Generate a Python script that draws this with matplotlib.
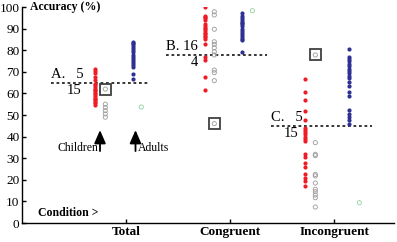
import matplotlib
matplotlib.use('Agg')
import matplotlib.pyplot as plt
from matplotlib.patches import Rectangle

plt.rcParams['font.family'] = ['Liberation Serif', 'DejaVu Serif']

# data
conditions = ['Total', 'Congruent', 'Incongruent']

children = [
    [71.5, 70.5, 69.5, 67.5, 66, 64.5, 64, 63, 62, 61.5, 61, 60, 59.5, 59, 58, 57.5, 57, 56, 55.5, 54.5],
    [100, 96, 95.5, 95, 94, 92, 91, 90.5, 90, 89, 88, 87.5, 86.5, 86, 85, 83, 77, 75.5, 67.5, 61.5],
    [66.7, 60.8, 56.9, 52, 47.7, 44, 43, 42, 41, 40, 39, 38, 32, 30.5, 28, 26, 22.5, 21, 19.5, 17],
]
adults = [
    [84, 83.5, 83, 82, 81, 80, 79, 78, 77, 76, 75, 74, 73, 72, 69, 66.5],
    [97, 96, 95, 94, 93, 92.5, 92, 91, 90, 89, 88, 87, 86, 85, 84.5, 79],
    [80.5, 77, 76, 75, 73.5, 72.5, 71.5, 70.5, 69.5, 68, 67, 65.5, 63.5, 60.5, 59, 52.5, 50.5, 49, 47.5, 46],
]
grey_pts = [
    [55, 53.5, 52, 50.5, 49],
    [97.8, 96.3, 89.7, 83.9, 82.7, 81.1, 79.3, 77.8, 70.8, 69.6, 65.9],
    [37.2, 31.8, 31.2, 22.5, 21.8, 18.5, 15.6, 14.5, 13, 11.7, 7.4],
]
boxed = [62, 46, 77.8]
green_pts = [53.7, 98.3, 9.4]
split_lines = [65, 78, 45]
above_labels = ['A.   5', 'B. 16', 'C.   5']
below_labels = ['15', '4', '15']

# layout (pixels -> data)
PX = 104.0
PY = 2.16
def dx(p):
    return (p - 22.3) / PX

offs = {'red': [-31, -25, -29], 'grey': [-21, -16, -19],
        'blue': [7, 12, 15], 'green': [15, 22, 25]}

fig = plt.figure(figsize=(3.97, 2.42), dpi=100)
ax = fig.add_axes([22.3 / 397, 19 / 242, (394 - 22.3) / 397, (223 - 7) / 242])

for i in range(3):
    x0 = i + 1
    ax.scatter([x0 + offs['red'][i] / PX] * len(children[i]), children[i],
               s=9, color='#ee1c25', linewidths=0, zorder=3)
    ax.scatter([x0 + offs['blue'][i] / PX] * len(adults[i]), adults[i],
               s=9, color='#2e3192', linewidths=0, zorder=3)
    gx = x0 + offs['grey'][i] / PX
    ax.scatter([gx] * len(grey_pts[i]), grey_pts[i], s=9,
               facecolors='none', edgecolors='#9a9a9a', linewidths=0.6, zorder=3)
    ax.scatter([gx], [boxed[i]], s=9, facecolors='none',
               edgecolors='#9a9a9a', linewidths=0.6, zorder=3)
    ax.add_patch(Rectangle((gx - 5.5 / PX, boxed[i] - 5.5 / PY), 11 / PX, 11 / PY,
                           fill=False, edgecolor='#404040', lw=1.3, zorder=4))
    ax.scatter([x0 + offs['green'][i] / PX], [green_pts[i]], s=9,
               facecolors='none', edgecolors='#8fd19e', linewidths=0.6, zorder=3)

# dashed split lines + counts
line_x = [(dx(51), dx(148)), (dx(166), dx(267)), (dx(271), dx(372))]
top_x = [dx(51), dx(166), dx(271)]
bot_x = [dx(81), dx(198), dx(298)]
for k, y in enumerate(split_lines):
    ax.plot(line_x[k], [y, y], color='black', lw=1.1, ls=(0, (1.8, 1.8)), zorder=2)
    ax.text(top_x[k], y + 0.8, above_labels[k], fontsize=10.5, ha='left', va='bottom', zorder=5)
    ax.text(bot_x[k], y - 0.6, below_labels[k], fontsize=10.5, ha='right', va='top', zorder=5)

# arrows
for xa, txt, ha, tx in [(dx(100), 'Children', 'right', dx(98)), (dx(135.5), 'Adults', 'left', dx(138))]:
    ax.annotate('', xy=(xa, 43), xytext=(xa, 33.3),
                arrowprops=dict(arrowstyle='-|>,head_width=0.35,head_length=0.8',
                                color='black', lw=1.3, shrinkA=0, shrinkB=0))
    ax.text(tx, 34.8, txt, fontsize=8.5, ha=ha, va='center')

ax.text(dx(30.5), 100, 'Accuracy (%)', fontsize=8.5, fontweight='bold',
        ha='left', va='center', clip_on=False)
ax.text(dx(38), 4.8, 'Condition >', fontsize=8.5, fontweight='bold',
        ha='left', va='center')

ax.set_xlim(0, (394 - 22.3) / PX)
ax.set_ylim(0, 100)
ax.set_xticks([1, 2, 3])
ax.set_xticklabels(conditions, fontsize=8.5, fontweight='bold')
ax.set_yticks(range(0, 101, 10))
ax.tick_params(direction='in', length=3, width=1, labelsize=9.5, pad=2)
ax.spines['top'].set_visible(False)
ax.spines['right'].set_visible(False)
for s in ['left', 'bottom']:
    ax.spines[s].set_linewidth(1)

fig.savefig('out.png', dpi=100)
